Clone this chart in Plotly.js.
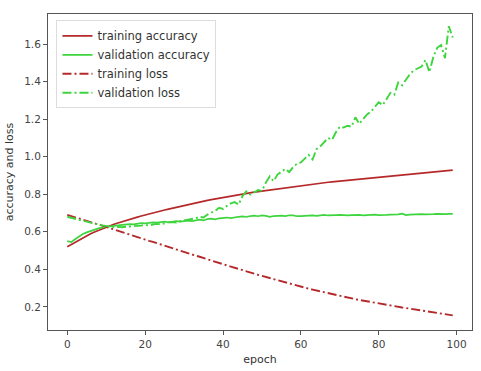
<!DOCTYPE html>
<html>
<head>
<meta charset="utf-8">
<script src="https://cdn.plot.ly/plotly-3.0.1.min.js"></script>
<style>html,body{margin:0;padding:0;background:#fff;}#chart{width:481px;height:371px;}</style>
</head>
<body>
<div id="chart"></div>
<script>
const epochs = [
  0,1,2,3,4,5,6,7,8,9,10,11,12,13,14,15,16,17,18,19,
  20,21,22,23,24,25,26,27,28,29,30,31,32,33,34,35,36,37,38,39,
  40,41,42,43,44,45,46,47,48,49,50,51,52,53,54,55,56,57,58,59,
  60,61,62,63,64,65,66,67,68,69,70,71,72,73,74,75,76,77,78,79,
  80,81,82,83,84,85,86,87,88,89,90,91,92,93,94,95,96,97,98,99
];
const trainingAccuracy = [
  0.520,0.532,0.545,0.556,0.568,0.580,0.590,0.599,0.608,0.617,
  0.626,0.633,0.640,0.647,0.654,0.660,0.666,0.672,0.678,0.684,
  0.690,0.695,0.701,0.706,0.711,0.716,0.721,0.726,0.731,0.736,
  0.741,0.745,0.750,0.754,0.758,0.763,0.767,0.771,0.775,0.779,
  0.783,0.787,0.790,0.794,0.797,0.801,0.804,0.807,0.811,0.814,
  0.817,0.820,0.823,0.826,0.829,0.832,0.835,0.838,0.841,0.844,
  0.847,0.849,0.852,0.854,0.857,0.859,0.862,0.864,0.866,0.868,
  0.871,0.873,0.875,0.877,0.879,0.881,0.883,0.885,0.887,0.889,
  0.891,0.893,0.895,0.897,0.899,0.901,0.903,0.905,0.907,0.909,
  0.911,0.913,0.915,0.917,0.919,0.921,0.923,0.925,0.927,0.928
];
const validationAccuracy = [
  0.550,0.545,0.560,0.575,0.588,0.597,0.605,0.612,0.618,0.623,
  0.627,0.630,0.632,0.634,0.637,0.639,0.641,0.640,0.644,0.646,
  0.645,0.648,0.650,0.649,0.652,0.654,0.651,0.655,0.657,0.654,
  0.658,0.660,0.657,0.662,0.665,0.661,0.668,0.670,0.666,0.672,
  0.674,0.676,0.673,0.678,0.680,0.682,0.679,0.684,0.686,0.683,
  0.687,0.685,0.680,0.684,0.687,0.686,0.684,0.688,0.687,0.683,
  0.684,0.686,0.688,0.687,0.685,0.688,0.690,0.687,0.686,0.689,
  0.690,0.688,0.687,0.689,0.691,0.690,0.688,0.690,0.692,0.691,
  0.689,0.688,0.690,0.692,0.691,0.693,0.697,0.689,0.691,0.693,
  0.692,0.694,0.693,0.692,0.694,0.695,0.693,0.694,0.696,0.695
];
const trainingLoss = [
  0.690,0.684,0.678,0.671,0.665,0.658,0.652,0.645,0.639,0.632,
  0.626,0.619,0.612,0.606,0.599,0.592,0.586,0.579,0.572,0.566,
  0.559,0.552,0.546,0.539,0.533,0.526,0.520,0.513,0.506,0.500,
  0.493,0.487,0.480,0.473,0.467,0.460,0.454,0.447,0.441,0.434,
  0.428,0.421,0.415,0.408,0.402,0.396,0.389,0.383,0.377,0.371,
  0.365,0.359,0.353,0.347,0.341,0.335,0.329,0.324,0.318,0.313,
  0.307,0.302,0.297,0.292,0.287,0.282,0.277,0.272,0.267,0.263,
  0.258,0.254,0.249,0.245,0.241,0.237,0.233,0.229,0.225,0.221,
  0.218,0.214,0.211,0.207,0.204,0.200,0.197,0.194,0.191,0.188,
  0.185,0.182,0.179,0.176,0.173,0.170,0.167,0.164,0.161,0.155
];
const validationLoss = [
  0.680,0.676,0.670,0.664,0.659,0.653,0.648,0.643,0.638,0.634,
  0.630,0.627,0.625,0.626,0.624,0.627,0.628,0.630,0.629,0.633,
  0.636,0.634,0.639,0.642,0.640,0.646,0.650,0.652,0.649,0.657,
  0.660,0.664,0.668,0.672,0.680,0.676,0.692,0.700,0.712,0.728,
  0.722,0.738,0.752,0.758,0.745,0.790,0.815,0.798,0.808,0.822,
  0.818,0.862,0.895,0.870,0.905,0.920,0.935,0.918,0.945,0.962,
  0.970,0.990,1.010,0.985,1.040,1.055,1.075,1.100,1.090,1.130,
  1.160,1.155,1.165,1.160,1.210,1.175,1.200,1.225,1.240,1.265,
  1.290,1.275,1.310,1.340,1.330,1.395,1.380,1.410,1.440,1.460,
  1.470,1.480,1.515,1.450,1.530,1.580,1.595,1.525,1.695,1.635
];
const seriesNames = ['training accuracy','validation accuracy','training loss','validation loss'];
const xTicks = [0,20,40,60,80,100];
const yTicks = [0.2,0.4,0.6,0.8,1.0,1.2,1.4,1.6];

const RED = '#b5292b';
const GREEN = '#3dd53d';
const DASHDOT = '9px,3px,2px,3px';

const traces = [
  {x: epochs, y: trainingAccuracy, name: seriesNames[0], mode: 'lines', line: {color: RED, width: 1.7}},
  {x: epochs, y: validationAccuracy, name: seriesNames[1], mode: 'lines', line: {color: GREEN, width: 1.7}},
  {x: epochs, y: trainingLoss, name: seriesNames[2], mode: 'lines', line: {color: RED, width: 1.9, dash: DASHDOT}},
  {x: epochs, y: validationLoss, name: seriesNames[3], mode: 'lines', line: {color: GREEN, width: 1.9, dash: DASHDOT}}
];

const axisCommon = {
  showline: true, mirror: true, linecolor: '#555', linewidth: 1,
  ticks: 'outside', ticklen: 4, tickcolor: '#555', tickwidth: 1,
  showgrid: false, zeroline: false,
  tickfont: {family: 'DejaVu Sans', size: 10.5, color: '#444'}
};

const layout = {
  width: 481, height: 371,
  margin: {l: 48, r: 9, t: 14, b: 41},
  paper_bgcolor: '#fff', plot_bgcolor: '#fff',
  font: {family: 'DejaVu Sans', color: '#333'},
  xaxis: Object.assign({}, axisCommon, {
    range: [-4.95, 103.95], tickvals: xTicks, ticktext: xTicks.map(String),
    title: {text: 'epoch', font: {family: 'DejaVu Sans', size: 11, color: '#333'}, standoff: 6}
  }),
  yaxis: Object.assign({}, axisCommon, {
    range: [0.077, 1.76], tickvals: yTicks, ticktext: yTicks.map(v => v.toFixed(1)),
    title: {text: 'accuracy and loss', font: {family: 'DejaVu Sans', size: 11, color: '#333'}, standoff: 8}
  }),
  showlegend: true,
  legend: {
    x: 0.02, y: 0.98, xanchor: 'left', yanchor: 'top',
    bgcolor: 'rgba(255,255,255,0.9)', bordercolor: '#dddddd', borderwidth: 1,
    font: {family: 'DejaVu Sans', size: 11.5, color: '#333'},
    itemwidth: 30, tracegroupgap: 0
  }
};

Plotly.newPlot('chart', traces, layout, {displayModeBar: false, staticPlot: true});
</script>
</body>
</html>
